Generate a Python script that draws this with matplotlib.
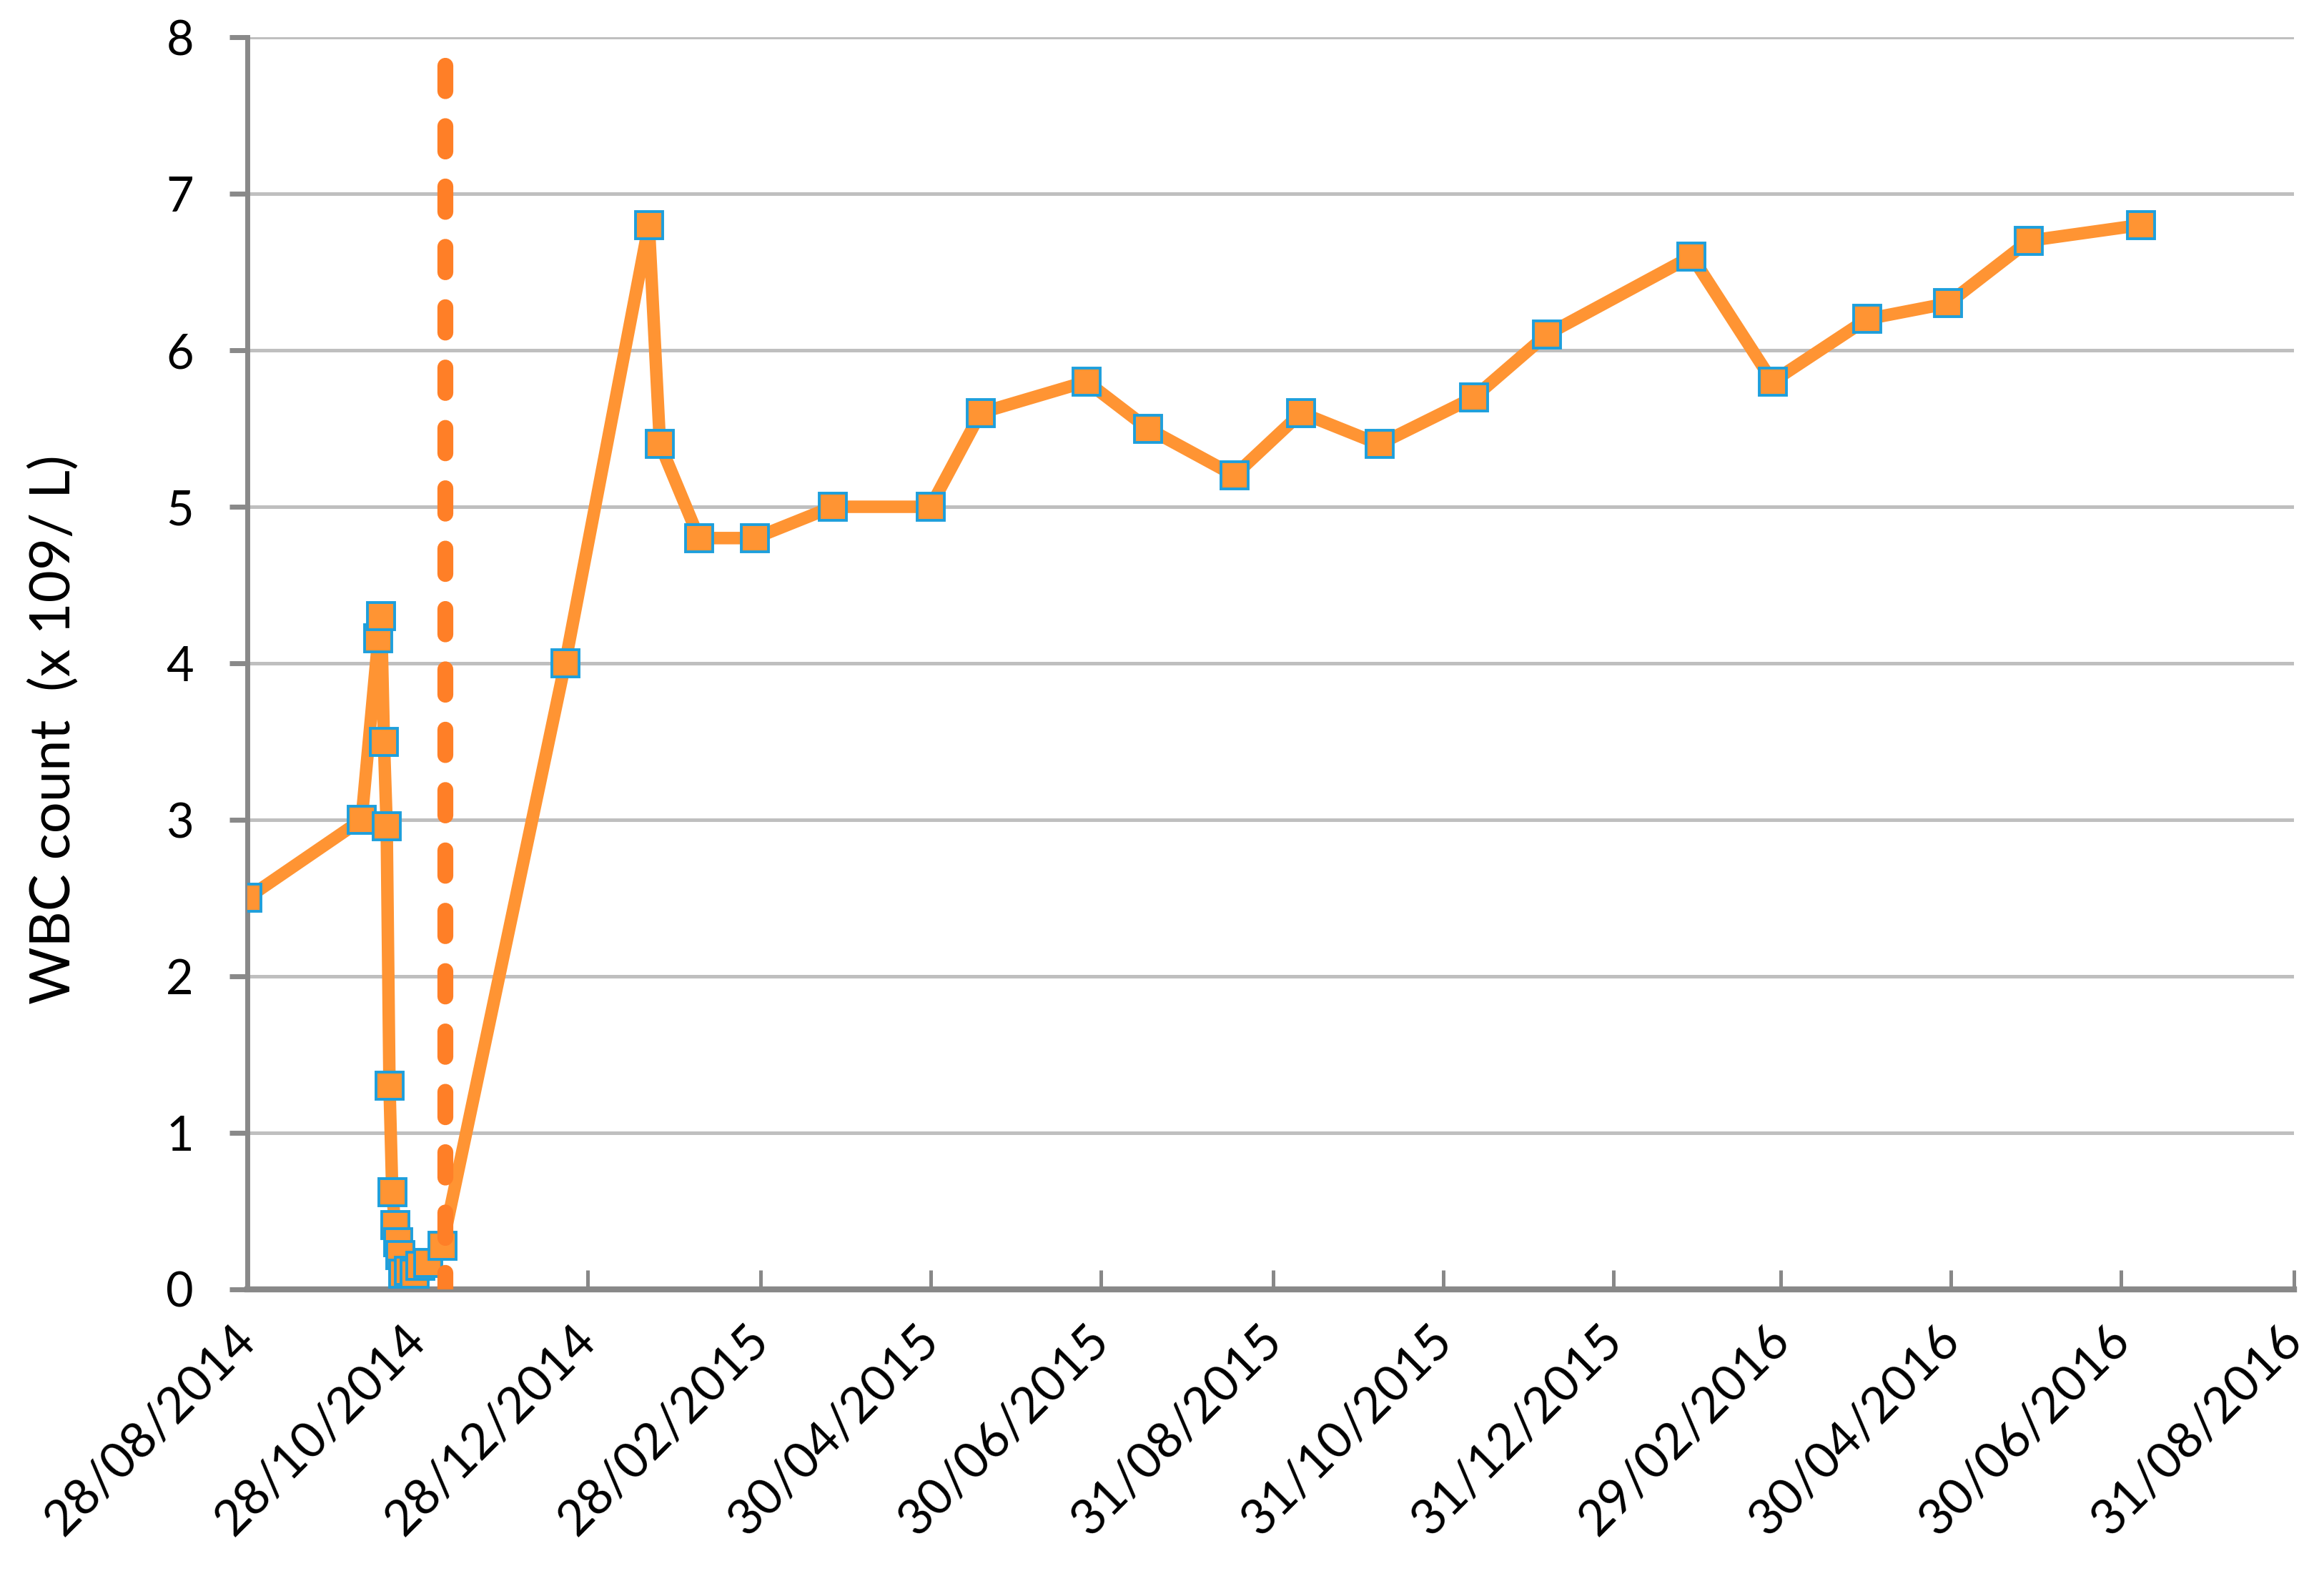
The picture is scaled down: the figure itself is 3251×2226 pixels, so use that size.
#!/usr/bin/env python3

# python imports
import matplotlib
matplotlib.use('Agg')
import matplotlib.pyplot as plt
import matplotlib.transforms as mtransforms
import pandas as pd

# ----- Data ---------------------------------------------

# sample dates and WBC counts
sample_dates = ['2014-08-28', '2014-10-08', '2014-10-14', '2014-10-15', '2014-10-16',
                '2014-10-17', '2014-10-18', '2014-10-19', '2014-10-20', '2014-10-21',
                '2014-10-22', '2014-10-23', '2014-10-25', '2014-10-27', '2014-10-29',
                '2014-11-01', '2014-11-06', '2014-12-20', '2015-01-19', '2015-01-23',
                '2015-02-06', '2015-02-26', '2015-03-26', '2015-04-30', '2015-05-18',
                '2015-06-25', '2015-07-17', '2015-08-17', '2015-09-10', '2015-10-08',
                '2015-11-11', '2015-12-07', '2016-01-28', '2016-02-26', '2016-03-31',
                '2016-04-29', '2016-05-28', '2016-07-07']
wbc_counts = [2.5, 3.0, 4.16, 4.3, 3.5,
              2.96, 1.3, 0.62, 0.41, 0.3,
              0.22, 0.1, 0.12, 0.1, 0.15,
              0.17, 0.28, 4.0, 6.8, 5.4,
              4.8, 4.8, 5.0, 5.0, 5.6,
              5.8, 5.5, 5.2, 5.6, 5.4,
              5.7, 6.1, 6.6, 5.8, 6.2,
              6.3, 6.7, 6.8]

# vertical dashed marker line (drawn top to bottom)
marker_dates = ['2014-11-07', '2014-11-07']
marker_vals = [7.82, 0]

# x axis tick dates
tick_dates = ['2014-08-28', '2014-10-28', '2014-12-28', '2015-02-28', '2015-04-30',
              '2015-06-30', '2015-08-31', '2015-10-31', '2015-12-31', '2016-02-29',
              '2016-04-30', '2016-06-30', '2016-08-31']
y_ticks = [0, 1, 2, 3, 4, 5, 6, 7, 8]

# ----- Plot ------------------------------------------------------------------
plt.rcParams['font.family'] = ['Lato', 'DejaVu Sans']

x = pd.to_datetime(sample_dates)
xm = pd.to_datetime(marker_dates)
xt = pd.to_datetime(tick_dates)

fig = plt.figure(figsize=(16.255, 11.13), dpi=200, facecolor='w')
ax = fig.add_axes([0.1064, 0.1896, 0.8807, 0.787])

ax.plot(xm, marker_vals, color='#FF7F27', linewidth=8, linestyle=(0, (1.6, 2.2)),
        dash_capstyle='round', zorder=4)
ax.plot(x, wbc_counts, color='#FF9433', linewidth=6.3, marker='s', markersize=14,
        markerfacecolor='#FF9433', markeredgecolor='#1E9FDC', markeredgewidth=1.4,
        zorder=3)

ax.set_xlim(xt[0], xt[-1])
ax.set_ylim(0, 8)
ax.set_yticks(y_ticks)
ax.set_xticks(xt)
ax.set_xticklabels([])

# date labels drawn by hand so they can sit where the original has them
lab_trans = ax.get_xaxis_transform() + mtransforms.ScaledTranslation(
    -7.5 / 72, -13.8 / 72, fig.dpi_scale_trans)
for d in xt:
    ax.text(d, 0, d.strftime('%d/%m/%Y'), transform=lab_trans, fontsize=25,
            rotation=45, ha='right', va='top', rotation_mode='anchor', clip_on=False)

ax.grid(axis='y', color='#BFBFBF', linewidth=1.8, zorder=0)
ax.set_axisbelow(True)
for s in ['top', 'right']:
    ax.spines[s].set_visible(False)
ax.spines['left'].set_color('#898989')
ax.spines['left'].set_linewidth(2.5)
ax.spines['bottom'].set_color('#888888')
ax.spines['bottom'].set_linewidth(3)
ax.spines['bottom'].set_zorder(2)

ax.tick_params(axis='y', direction='out', length=9, width=2.5, color='#898989',
               labelsize=24, pad=18)
ax.tick_params(axis='x', direction='in', length=9.7, width=1.8, color='#888888')

ax.set_ylabel('WBC count  (x 109/ L)', fontsize=28)
ax.yaxis.set_label_coords(-0.082, 0.447)

fig.savefig('out.png', dpi=200)
